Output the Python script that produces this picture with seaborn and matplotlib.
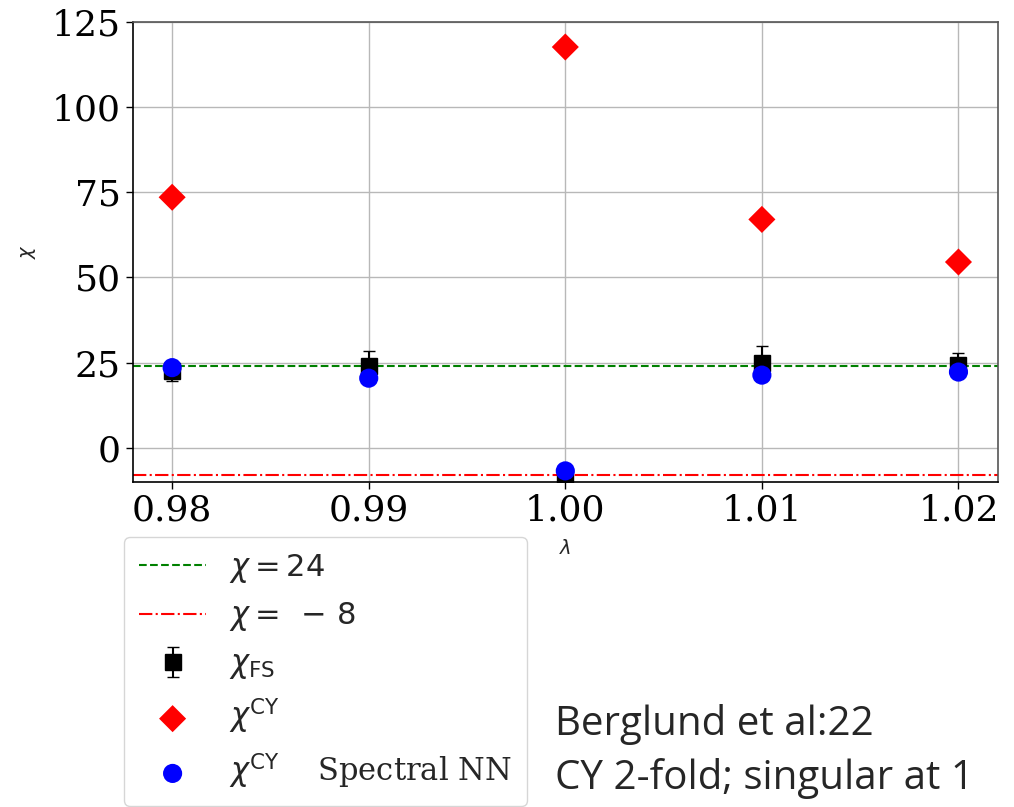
import seaborn as sns
import matplotlib.pyplot as plt
import pandas as pd

lam = [0.98, 0.99, 1.00, 1.01, 1.02]
chi_fs = [22.5, 24.0, -9.0, 24.8, 24.2]
chi_fs_err = [2.8, 4.5, 2.0, 5.0, 3.5]
chi_cy = [73.5, 117.6, 67.0, 54.5]
lam_cy = [0.98, 1.00, 1.01, 1.02]
chi_nn = [23.5, 20.4, -6.8, 21.3, 22.2]

sns.set_style('whitegrid')
plt.rcParams['font.family'] = ['DejaVu Serif']
plt.rcParams['mathtext.fontset'] = 'dejavusans'

fig = plt.figure(figsize=(10.14, 8.07), dpi=100)
ax = fig.add_axes([0.131, 0.403, 0.853, 0.570])

ax.axhline(24, color='green', ls='--', lw=1.5, label=r'$\chi = 24$', zorder=2)
ax.axhline(-8, color='red', ls='-.', lw=1.5, label=r'$\chi = \;-\,8$', zorder=2)

ax.errorbar(lam, chi_fs, yerr=chi_fs_err, fmt='s', color='black', ms=11,
            capsize=4, elinewidth=1.5, label=r'$\chi_{\rm FS}$', zorder=3)

df_cy = pd.DataFrame({'lam': lam_cy, 'chi': chi_cy})
sns.scatterplot(data=df_cy, x='lam', y='chi', marker='D', color='red', s=190,
                edgecolor='none', label=r'$\chi^{\rm CY}$', ax=ax, zorder=4)
df_nn = pd.DataFrame({'lam': lam, 'chi': chi_nn})
sns.scatterplot(data=df_nn, x='lam', y='chi', marker='o', color='blue', s=190,
                edgecolor='none', label=r'$\chi^{\rm CY}$    Spectral NN', ax=ax, zorder=5)

ax.set_xlim(0.978, 1.022)
ax.set_ylim(-10, 125)
ax.set_xticks(lam)
ax.set_xticklabels(['0.98', '0.99', '1.00', '1.01', '1.02'])
ax.set_yticks([0, 25, 50, 75, 100, 125])
ax.tick_params(labelsize=26, length=5, width=1, colors='black', bottom=True, left=True)
ax.grid(True, color='#b8b8b8', lw=1)
for s in ['left', 'bottom']:
    ax.spines[s].set_color('black')
for s in ['top', 'right']:
    ax.spines[s].set_color('#555555')
for s in ax.spines.values():
    s.set_linewidth(1.2)

ax.set_xlabel(r'$\lambda$', fontsize=14, labelpad=8)
ax.set_ylabel(r'$\chi$', fontsize=14, labelpad=10)

ax.get_legend().remove()
h, l = ax.get_legend_handles_labels()
order = [0, 1, 4, 2, 3]
h = [h[i] for i in order]
l = [l[i] for i in order]
fig.legend(h, l, loc='upper left', bbox_to_anchor=(0.122, 0.335), borderaxespad=0,
           fontsize=22, frameon=True, edgecolor='#cccccc', handlelength=2.2,
           borderpad=0.5, labelspacing=0.5, handletextpad=0.75)

fig.text(0.547, 0.022, 'Berglund et al:22\nCY 2-fold; singular at 1',
         fontsize=29, family=['Open Sans', 'DejaVu Sans'], linespacing=1.42)

fig.savefig('out.png', dpi=100)
